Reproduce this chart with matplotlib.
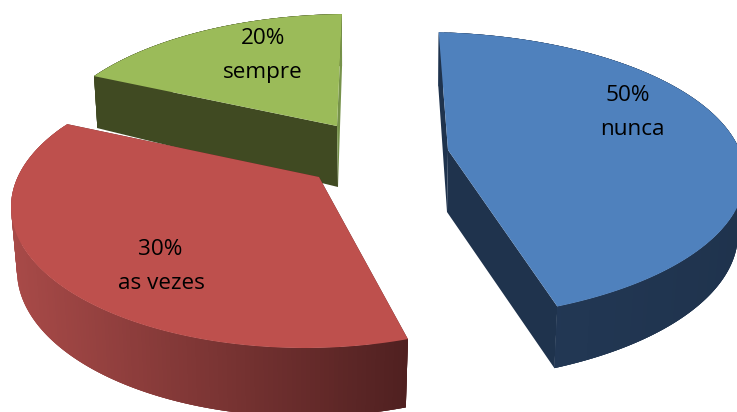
import numpy as np
import matplotlib
matplotlib.use("Agg")
import matplotlib.pyplot as plt
from matplotlib.collections import PolyCollection

# chart data
names = ["sempre", "as vezes", "nunca"]
percents = [20, 30, 50]

top_colors = ["#9BBB59", "#BE504D", "#4F81BD"]
cut_colors = ["#404A22", "#5A2423", "#1F334D"]
side_colors = ["#76924A", "#5A2423", "#1F334D"]
# outer wall shading, left side to right side of the slice
wall_left = ["#404A22", "#A84A48", "#243A58"]
wall_right = ["#404A22", "#4F2020", "#1F334D"]

# one projected ellipse for the top and one for the bottom of each slice
start_deg = [91.5, 144.0, 86.7]
deg_per_pct = [2.735, 4.883, 3.034]
top_ell = [(350, 154, 308, 140), (305, 207, 294, 141), (420, 176, 325, 144)]
bot_ell = [(350, 206, 304, 140), (305, 270.6, 288, 146), (420, 234, 318, 148)]
apex_top = [(337, 126), (319, 177), (448, 150)]
apex_bot = [(338, 187), (319, 240), (447, 212)]

pct_pos = [(263, 38.5), (160, 249.5), (628, 95.5)]
name_pos = [(263, 72.5), (161, 283.5), (632, 129.5)]


def rim(ell, t):
    cx, cy, rx, ry = ell
    return np.column_stack([cx + rx * np.cos(t), cy - ry * np.sin(t)])


def to_rgb(c):
    return np.array(matplotlib.colors.to_rgb(c))


fig = plt.figure(figsize=(7.37, 4.12), dpi=100)
ax = fig.add_axes([0, 0, 1, 1])
ax.set_xlim(0, 737)
ax.set_ylim(412, 0)
ax.axis("off")

for i in range(len(percents)):
    z = 2 + i * 5
    sweep = percents[i] * deg_per_pct[i]
    t = np.radians(np.linspace(start_deg[i], start_deg[i] + sweep, 160))
    # blue runs clockwise on screen, the other two counter clockwise
    if names[i] == "nunca":
        t = np.radians(np.linspace(start_deg[i], start_deg[i] - sweep, 160))
    up = rim(top_ell[i], t)
    low = rim(bot_ell[i], t)

    # end cut face goes under the outer wall
    ax.fill([up[-1, 0], apex_top[i][0], apex_bot[i][0], low[-1, 0]],
            [up[-1, 1], apex_top[i][1], apex_bot[i][1], low[-1, 1]],
            color=cut_colors[i], lw=0, zorder=z)

    # outer wall as thin quads, colour goes with x. quads overlap so no seams show
    quads = []
    cols = []
    xmin = min(up[:, 0].min(), low[:, 0].min())
    xmax = max(up[:, 0].max(), low[:, 0].max())
    for k in range(len(t) - 1):
        k2 = min(k + 3, len(t) - 1)
        quads.append([up[k], up[k2], low[k2], low[k]])
        f = (up[k, 0] - xmin) / (xmax - xmin)
        cols.append(to_rgb(wall_left[i]) * (1 - f) + to_rgb(wall_right[i]) * f)
    ax.add_collection(PolyCollection(quads, facecolors=cols, edgecolors="none",
                                     linewidths=0, zorder=z + 1))

    # start cut face, the thin sliver on green and blue
    ax.fill([up[0, 0], apex_top[i][0], apex_bot[i][0], low[0, 0]],
            [up[0, 1], apex_top[i][1], apex_bot[i][1], low[0, 1]],
            color=side_colors[i], lw=0, zorder=z + 2)

    # top face
    top = np.vstack([up, [apex_top[i]]])
    ax.fill(top[:, 0], top[:, 1], color=top_colors[i], lw=0, zorder=z + 3)

for i in range(len(percents)):
    ax.text(pct_pos[i][0], pct_pos[i][1], str(percents[i]) + "%", family="Open Sans",
            fontsize=16.2, ha="center", va="center", color="black", zorder=30)
    ax.text(name_pos[i][0], name_pos[i][1], names[i], family="Open Sans",
            fontsize=16.2, ha="center", va="center", color="black", zorder=30)

fig.savefig("out.png", dpi=100)
